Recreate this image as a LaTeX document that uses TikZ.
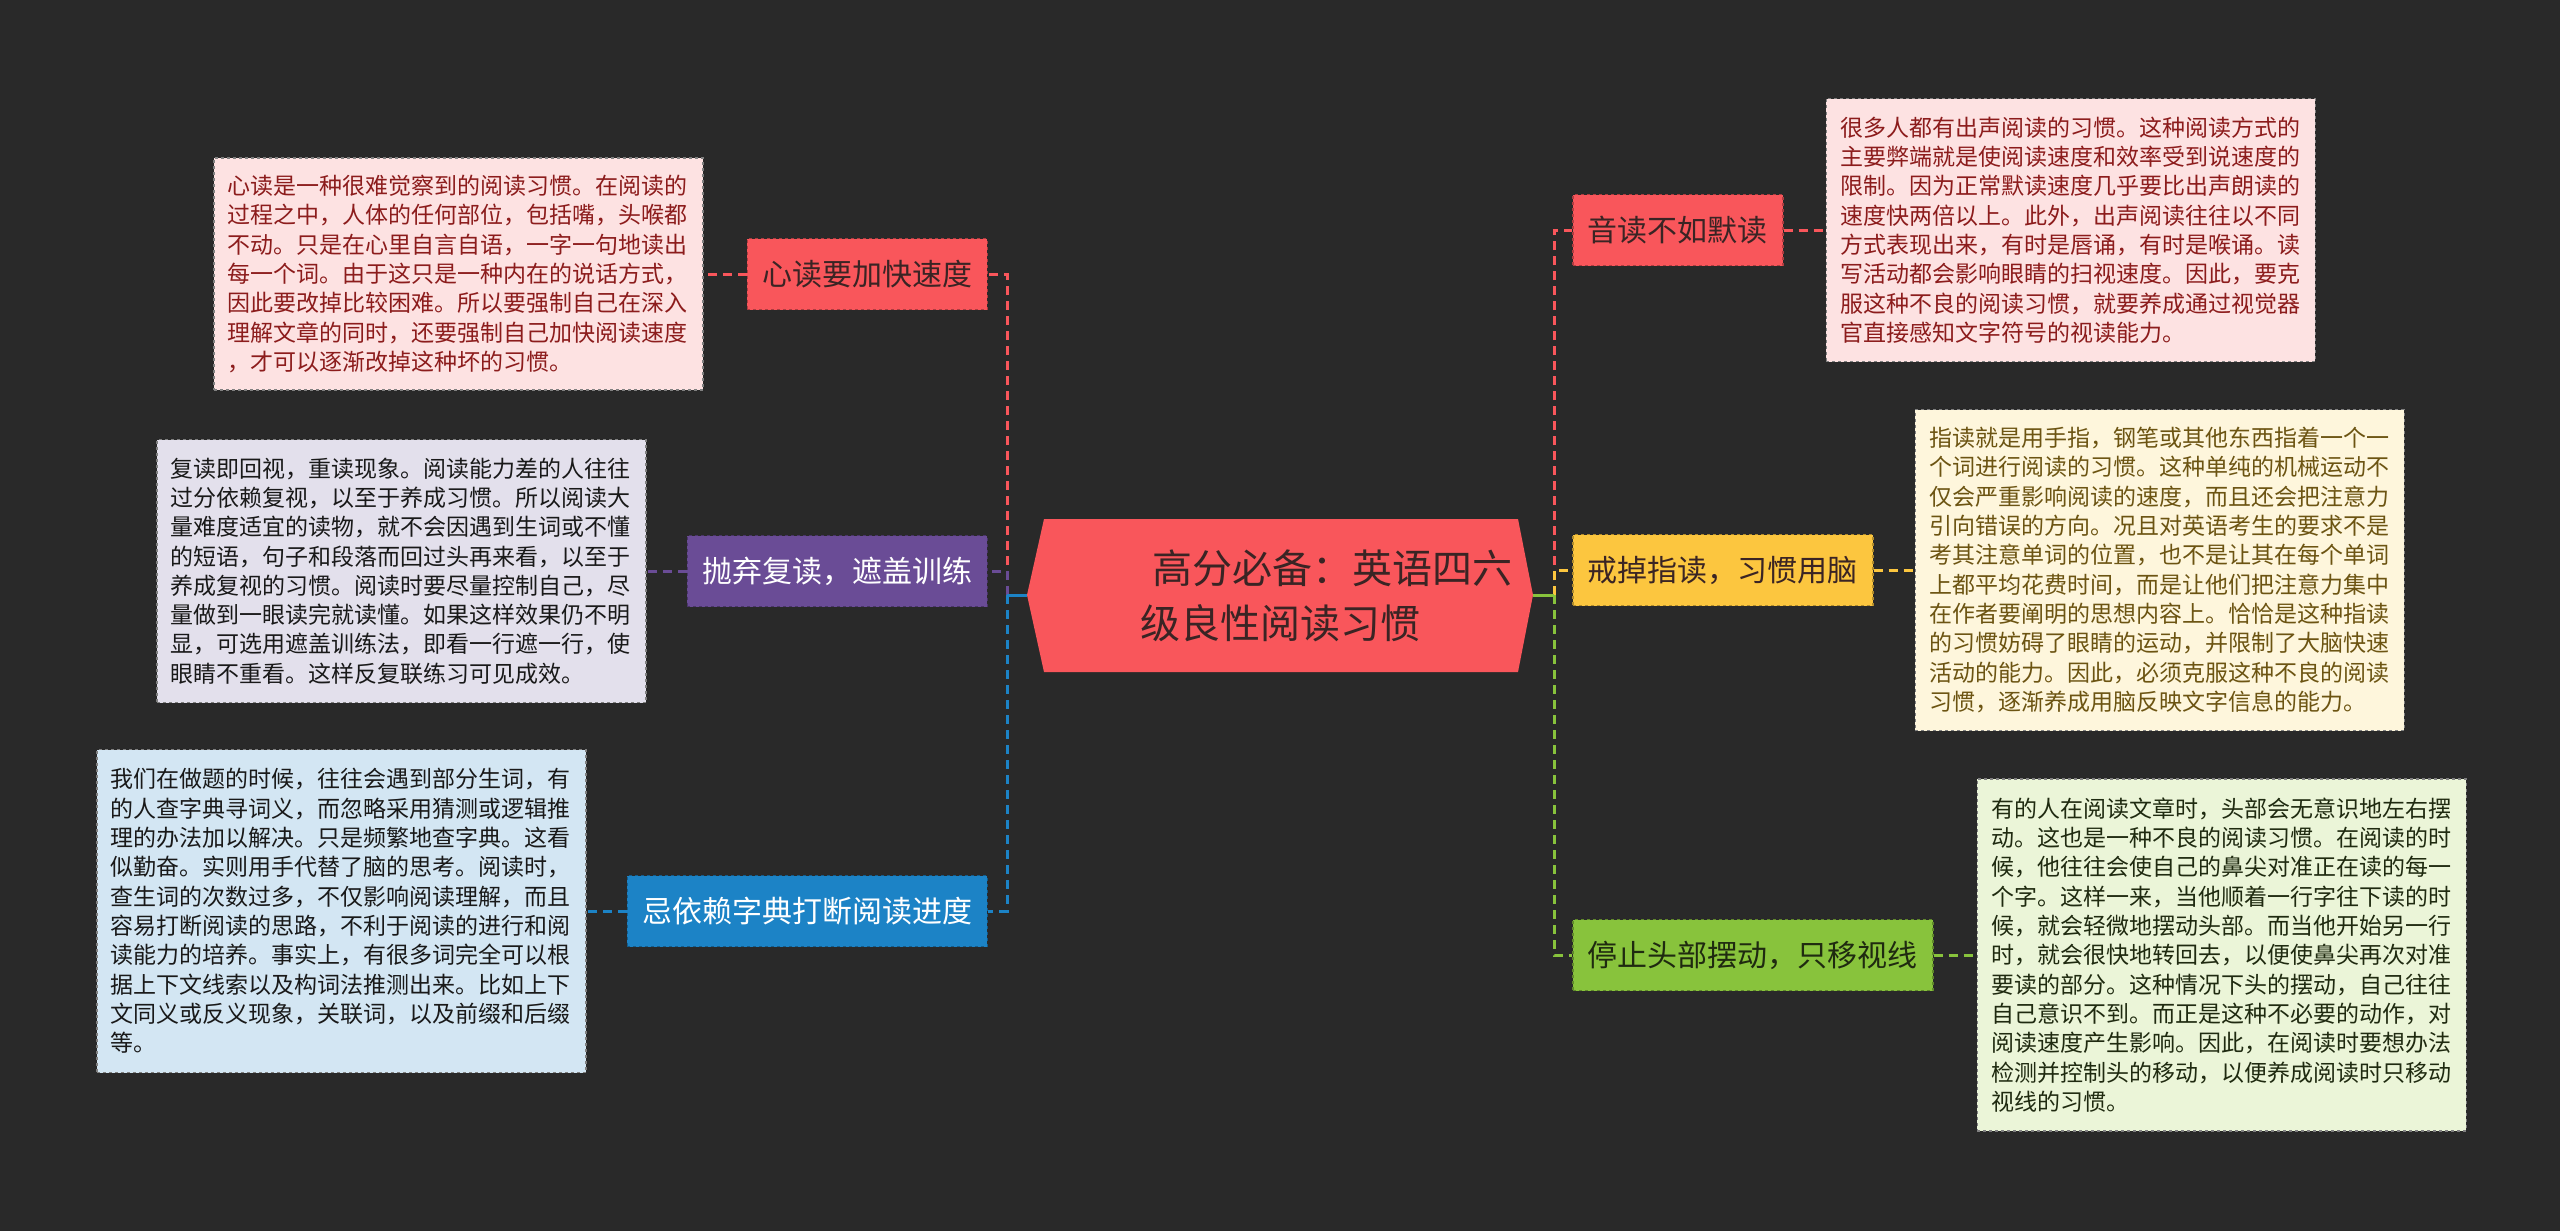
\documentclass[tikz,border=0pt]{standalone}
\usepackage{fontspec}
\setmainfont{Noto Sans CJK SC}
\usepackage{tikz}
\usetikzlibrary{positioning}
\definecolor{BgDark}{HTML}{292929}
\definecolor{MapRed}{HTML}{F9565B}
\definecolor{MapPurple}{HTML}{6A4C96}
\definecolor{MapBlue}{HTML}{1C83C6}
\definecolor{MapYellow}{HTML}{FCC63F}
\definecolor{MapGreen}{HTML}{88C33C}
\definecolor{NotePink}{HTML}{FDE2E2}
\definecolor{NoteLilac}{HTML}{E3E0EC}
\definecolor{NoteSky}{HTML}{D3E6F3}
\definecolor{NoteCream}{HTML}{FEF6DC}
\definecolor{NoteMint}{HTML}{EBF5D8}
\definecolor{InkRed}{HTML}{8C1C1C}
\definecolor{InkOlive}{HTML}{6C5412}
\definecolor{InkMoss}{HTML}{1F2A10}
\definecolor{InkDark}{HTML}{3A2424}

\begin{document}
\begin{tikzpicture}[x=1pt, y=-1pt,
    lbl/.style={rectangle, fill=#1, draw=#1!70!black, dashed, line width=1.5pt,
      minimum height=71pt, inner xsep=15pt, font=\fontsize{30}{36}\selectfont},
    info/.style={rectangle, fill=#1, draw=black!50, dashed, line width=1.5pt,
      text width=461pt, inner xsep=14pt, inner ysep=14pt, align=left,
      font=\fontsize{23}{29.3}\selectfont},
    link/.style={draw=#1, line width=3pt, dash pattern=on 9pt off 6pt}]
  \fill[BgDark] (0,0) rectangle (2560,1231);

  % centre topic
  \fill[MapRed] (1027,595) -- (1044,519) -- (1518,519) -- (1533,595)
    -- (1518,672) -- (1044,672) -- cycle;
  \node[anchor=west, inner sep=0pt, align=left, text=InkDark,
    font=\fontsize{40}{55}\selectfont] (root) at (1140,596)
    {\hspace*{12pt}高分必备：英语四六\\级良性阅读习惯};
  \coordinate (rootW) at (1027,595);
  \coordinate (rootE) at (1533,595);
  \coordinate (jl) at (1007,595);
  \coordinate (jr) at (1554,595);

  % left branches
  \node[lbl=MapRed, text=InkDark, anchor=east] (l1) at (988,274) {心读要加快速度};
  \node[lbl=MapPurple, text=white, anchor=east] (l2) at (988,571) {抛弃复读，遮盖训练};
  \node[lbl=MapBlue, text=white, anchor=east] (l3) at (988,911) {忌依赖字典打断阅读进度};

  \node[info=NotePink, text=InkRed, minimum height=232pt, left=43pt of l1] (dl1)
    {心读是一种很难觉察到的阅读习惯。在阅读的\\过程之中，人体的任何部位，包括嘴，头喉都\\不动。只是在心里自言自语，一字一句地读出\\每一个词。由于这只是一种内在的说话方式，\\因此要改掉比较困难。所以要强制自己在深入\\理解文章的同时，还要强制自己加快阅读速度\\，才可以逐渐改掉这种坏的习惯。};
  \node[info=NoteLilac, text=black!90, minimum height=263pt, left=40pt of l2] (dl2)
    {复读即回视，重读现象。阅读能力差的人往往\\过分依赖复视，以至于养成习惯。所以阅读大\\量难度适宜的读物，就不会因遇到生词或不懂\\的短语，句子和段落而回过头再来看，以至于\\养成复视的习惯。阅读时要尽量控制自己，尽\\量做到一眼读完就读懂。如果这样效果仍不明\\显，可选用遮盖训练法，即看一行遮一行，使\\眼睛不重看。这样反复联练习可见成效。};
  \node[info=NoteSky, text=black!90, minimum height=323pt, left=40pt of l3] (dl3)
    {我们在做题的时候，往往会遇到部分生词，有\\的人查字典寻词义，而忽略采用猜测或逻辑推\\理的办法加以解决。只是频繁地查字典。这看\\似勤奋。实则用手代替了脑的思考。阅读时，\\查生词的次数过多，不仅影响阅读理解，而且\\容易打断阅读的思路，不利于阅读的进行和阅\\读能力的培养。事实上，有很多词完全可以根\\据上下文线索以及构词法推测出来。比如上下\\文同义或反义现象，关联词，以及前缀和后缀\\等。};

  % right branches
  \node[lbl=MapRed, text=InkDark, anchor=west] (r1) at (1572,230) {音读不如默读};
  \node[lbl=MapYellow, text=InkDark, anchor=west] (r2) at (1572,570) {戒掉指读，习惯用脑};
  \node[lbl=MapGreen, text=InkMoss, anchor=west] (r3) at (1572,955) {停止头部摆动，只移视线};

  \node[info=NotePink, text=InkRed, minimum height=263pt, right=42pt of r1] (dr1)
    {很多人都有出声阅读的习惯。这种阅读方式的\\主要弊端就是使阅读速度和效率受到说速度的\\限制。因为正常默读速度几乎要比出声朗读的\\速度快两倍以上。此外，出声阅读往往以不同\\方式表现出来，有时是唇诵，有时是喉诵。读\\写活动都会影响眼睛的扫视速度。因此，要克\\服这种不良的阅读习惯，就要养成通过视觉器\\官直接感知文字符号的视读能力。};
  \node[info=NoteCream, text=InkOlive, minimum height=321pt, right=41pt of r2] (dr2)
    {指读就是用手指，钢笔或其他东西指着一个一\\个词进行阅读的习惯。这种单纯的机械运动不\\仅会严重影响阅读的速度，而且还会把注意力\\引向错误的方向。况且对英语考生的要求不是\\考其注意单词的位置，也不是让其在每个单词\\上都平均花费时间，而是让他们把注意力集中\\在作者要阐明的思想内容上。恰恰是这种指读\\的习惯妨碍了眼睛的运动，并限制了大脑快速\\活动的能力。因此，必须克服这种不良的阅读\\习惯，逐渐养成用脑反映文字信息的能力。};
  \node[info=NoteMint, text=InkMoss, minimum height=352pt, right=43pt of r3] (dr3)
    {有的人在阅读文章时，头部会无意识地左右摆\\动。这也是一种不良的阅读习惯。在阅读的时\\候，他往往会使自己的鼻尖对准正在读的每一\\个字。这样一来，当他顺着一行字往下读的时\\候，就会轻微地摆动头部。而当他开始另一行\\时，就会很快地转回去，以便使鼻尖再次对准\\要读的部分。这种情况下头的摆动，自己往往\\自己意识不到。而正是这种不必要的动作，对\\阅读速度产生影响。因此，在阅读时要想办法\\检测并控制头的移动，以便养成阅读时只移动\\视线的习惯。};

  % connectors
  \draw[link=MapRed] (jl) |- (l1.east);
  \draw[link=MapPurple] (jl) |- (l2.east);
  \draw[link=MapBlue] (jl) |- (l3.east);
  \draw[MapBlue, line width=3pt] (rootW) -- (jl);
  \draw[link=MapRed] (jr) |- (r1.west);
  \draw[link=MapYellow] (jr) |- (r2.west);
  \draw[link=MapGreen] (jr) |- (r3.west);
  \draw[MapGreen, line width=3pt] (rootE) -- (jr);

  \draw[link=MapRed] (l1.west) -- (dl1.east);
  \draw[link=MapPurple] (l2.west) -- (dl2.east);
  \draw[link=MapBlue] (l3.west) -- (dl3.east);
  \draw[link=MapRed] (r1.east) -- (dr1.west);
  \draw[link=MapYellow] (r2.east) -- (dr2.west);
  \draw[link=MapGreen] (r3.east) -- (dr3.west);
\end{tikzpicture}
\end{document}
